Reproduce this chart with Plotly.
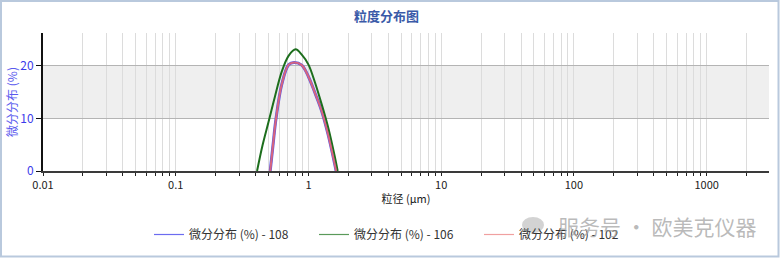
import numpy as np
import plotly.graph_objects as go

# ---- data ----
sizes_106 = [0.41, 0.45, 0.50, 0.56, 0.63, 0.71, 0.80, 0.89, 1.00, 1.12, 1.26, 1.41, 1.58, 1.66]
vals_106 = [0.0, 4.8, 9.3, 14.2, 18.9, 21.9, 23.1, 22.1, 20.2, 16.8, 12.6, 8.2, 2.7, 0.0]

sizes_102 = [0.515, 0.54, 0.57, 0.63, 0.71, 0.78, 0.89, 1.00, 1.12, 1.26, 1.41, 1.58, 1.615]
vals_102 = [0.0, 4.8, 10.0, 16.5, 20.2, 20.6, 20.1, 17.9, 14.8, 11.3, 6.8, 1.2, 0.0]

sizes_108 = [0.515, 0.54, 0.57, 0.63, 0.71, 0.78, 0.89, 1.00, 1.12, 1.26, 1.41, 1.58, 1.615]
vals_108 = [0.0, 4.8, 10.0, 16.5, 20.2, 20.6, 20.1, 17.9, 14.8, 11.3, 6.8, 1.2, 0.0]

names = ["微分分布 (%) - 108", "微分分布 (%) - 106", "微分分布 (%) - 102"]
decade_labels = ["0.01", "0.1", "1", "10", "100", "1000"]
y_ticks = [0, 10, 20]

# tick positions on log axis
tickvals, ticktext = [], []
for k in range(-2, 4):
    for m in range(1, 10):
        v = m * 10.0 ** k
        if v > 2950:
            break
        tickvals.append(v)
        ticktext.append(decade_labels[k + 2] if m == 1 else "")

FONT = "Noto Sans CJK SC"

line_colors = ["#5a5ae6", "#1d6e1d", "#d8647e"]
legend_colors = ["#6c6cf0", "#5a9a5a", "#f0a0a0"]
all_sizes = [sizes_108, sizes_106, sizes_102]
all_vals = [vals_108, vals_106, vals_102]
widths = [3, 2, 2]

fig = go.Figure()
for i in range(3):
    fig.add_trace(go.Scatter(x=all_sizes[i], y=all_vals[i], name=names[i], mode="lines",
                             showlegend=False,
                             line=dict(color=line_colors[i], width=widths[i], shape="spline")))
for i in range(3):
    fig.add_trace(go.Scatter(x=[None], y=[None], name=names[i], mode="lines",
                             line=dict(color=legend_colors[i], width=1.2)))

L, R, T, B = 43, 11, 33, 87
W, H = 780, 258
pw = W - L - R
ph = H - T - B

def px(p):
    return (p - L) / pw

def py(p):
    return (H - B - p) / ph

fig.update_layout(
    width=W, height=H,
    margin=dict(l=L, r=R, t=T, b=B, autoexpand=False),
    paper_bgcolor="white", plot_bgcolor="white",
    font=dict(family=FONT, size=11, color="#222"),
    showlegend=True,
    legend=dict(orientation="h", x=px(149), y=py(220), xanchor="left", yanchor="top",
                entrywidth=120, entrywidthmode="pixels", itemwidth=30,
                font=dict(family=FONT, size=12, color="#333"), bgcolor="rgba(0,0,0,0)"),
    xaxis=dict(type="log", range=[-2, np.log10(2950)], tickmode="array",
               tickvals=tickvals, ticktext=ticktext, showgrid=True, automargin=False,
               gridcolor="#dcdcdc", gridwidth=1, showline=True, linecolor="#3a3a3a",
               linewidth=2, ticks="outside", ticklen=3, tickcolor="#222",
               tickfont=dict(family=FONT, size=11, color="#222"), zeroline=False,
               title=dict(text="粒径 (μm)", font=dict(family=FONT, size=11, color="#222"), standoff=4)),
    yaxis=dict(range=[0, 26.2], tickvals=y_ticks, showgrid=True, gridcolor="#b4b4b4",
               gridwidth=1, showline=True, linecolor="#111", linewidth=2, automargin=False,
               ticks="outside", ticklen=5, tickcolor="#111", zeroline=False,
               tickfont=dict(family=FONT, size=12, color="#3b3bea"),
               title=dict(text="微分分布 (%)", font=dict(family=FONT, size=12, color="#5a5aee"), standoff=0)),
)

# band between 10 and 20
fig.add_shape(type="rect", xref="paper", yref="y", x0=0, x1=1, y0=10, y1=20,
              fillcolor="#efefef", line=dict(width=0), layer="below")

# frame
fig.add_shape(type="rect", xref="paper", yref="paper", x0=px(1), x1=px(778.5),
              y0=py(256.5), y1=py(1), line=dict(color="#b9c9dd", width=2))

# title
fig.add_annotation(text="<b>粒度分布图</b>", xref="paper", yref="paper", x=px(386), y=py(15),
                   xanchor="center", yanchor="middle",
                   showarrow=False, font=dict(family=FONT, size=13, color="#3a5aa8"))

# watermark
fig.add_shape(type="circle", xref="paper", yref="paper", x0=px(522), x1=px(544),
              y0=py(233), y1=py(217), fillcolor="rgba(175,175,175,0.55)", line=dict(width=0))
fig.add_annotation(text="服务号 · 欧美克仪器", xref="paper", yref="paper", x=px(556), y=py(226),
                   xanchor="left", yanchor="middle", showarrow=False,
                   font=dict(family=FONT, size=21, color="rgba(160,160,160,0.72)"))

fig.write_html("out.html")
